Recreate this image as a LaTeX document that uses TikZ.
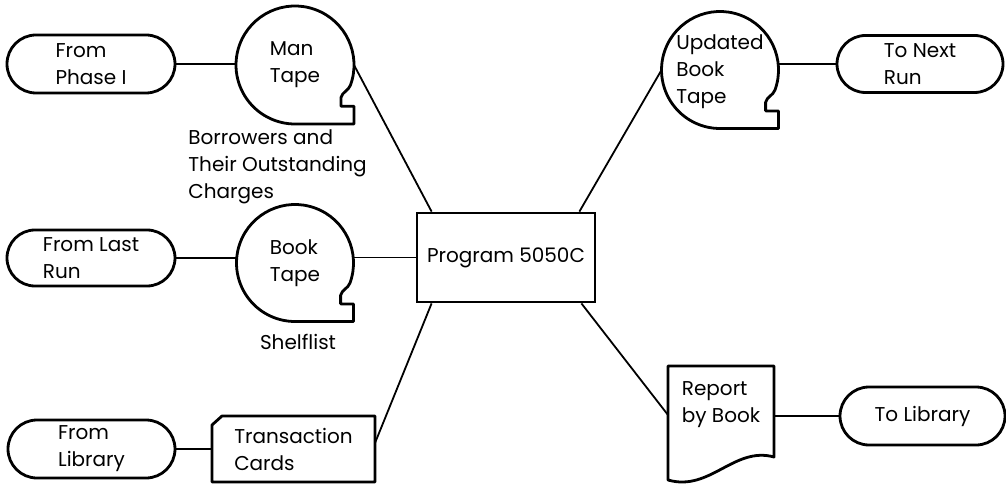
\documentclass[tikz,border=0pt]{standalone}
\usepackage{fontspec}
\setmainfont{Poppins}
\usepackage{tikz}
\usetikzlibrary{positioning, calc, shapes.misc}

% tape outline round a circle node #1 of radius #2
\newcommand{\tapeline}[2]{%
  \draw[outline] (#1.south) -- ++(#2,0pt) -- ++(0pt,{0.3*#2}) -- ++({-0.22*#2},0pt)
    -- ++(0pt,{0.15*#2}) to[out=75,in=250] (#1.-20)
    arc[start angle=-20, end angle=270, radius=#2] -- cycle;}

\begin{document}
\begin{tikzpicture}[x=0.5pt, y=-0.5pt,
  every node/.style={font=\fontsize{10}{13.5}\selectfont, align=left},
  outline/.style={line width=1.4pt, line join=round},
  link/.style={line width=0.9pt},
  terminal/.style={draw, rounded rectangle, line width=1.4pt, minimum width=84pt, minimum height=29pt, inner sep=0pt},
  tape/.style={circle, minimum size=#1, inner sep=0pt, outer sep=0pt},
  tape/.default=59pt,
  frame/.style={rectangle, inner sep=0pt, outer sep=0pt}]
  \useasboundingbox (0,0) rectangle (1006,486);

  % program in the middle
  \node[draw, line width=1.4pt, minimum width=89pt, minimum height=44.5pt] (prog) at (506,257.5) {Program 5050C};

  % inputs
  \node[terminal] (fp) at (91,64) {From\\Phase I};
  \node[tape] (mt) at (295,65) {};
  \tapeline{mt}{29.5pt}
  \node (mt-txt) at (mt) {Man\\Tape};
  \node[anchor=west, inner sep=0pt] (borrow) at (188,167) {Borrowers and\\Their Outstanding\\Charges};

  \node[terminal, minimum height=28pt] (flr) at (91,258) {From Last\\Run};
  \node[tape=58.5pt] (bt) at (295,263) {};
  \tapeline{bt}{29.25pt}
  \node (bt-txt) at (bt) {Book\\Tape};
  \node (shelf) at (298,342) {Shelflist};

  \node[terminal, minimum width=83.5pt] (fl) at (91.5,449) {From\\Library};
  \node[frame, minimum width=81.5pt, minimum height=33pt] (tc) at (293.5,449) {Transaction\\Cards};
  \draw[outline] ([yshift=-4.5pt]tc.north west) -- ([xshift=5pt]tc.north west)
    -- (tc.north east) -- (tc.south east) -- (tc.south west) -- cycle;

  % outputs
  \node[tape=58.5pt] (ubt) at (720,70) {};
  \tapeline{ubt}{29.25pt}
  \node (ubt-txt) at ([yshift=-1pt]ubt.center) {Updated\\Book\\Tape};
  \node[terminal, minimum width=83pt, minimum height=28.5pt] (tnr) at (920,64) {To Next\\Run};

  \node[frame, minimum width=53pt, minimum height=57pt] (rb) at (721,423) {};
  \draw[outline] (rb.north west) -- (rb.north east) -- ([yshift=11.5pt]rb.south east)
    .. controls ([xshift=-20pt,yshift=17pt]rb.south east) and ([xshift=21pt,yshift=-6pt]rb.south west) .. (rb.south west) -- cycle;
  \node (rb-txt) at ([yshift=9pt]rb.center) {Report\\by Book};
  \node[terminal, minimum width=82.5pt] (tl) at (922.5,416) {To Library};

  % connections
  \draw[link] (fp.east) -- (fp.east -| mt.west);
  \draw[link] (flr.east) -- (flr.east -| bt.west);
  \draw[link] (bt.east |- prog.west) -- (prog.west);
  \draw[link] (fl.east) -- (fl.east -| tc.west);
  \draw[link] (mt.east) -- ([xshift=8pt]prog.north west);
  \draw[link] ([yshift=3pt]tc.east) -- ([xshift=8pt]prog.south west);
  \draw[link] (ubt.west) -- ([xshift=-8.5pt]prog.north east);
  \draw[link] ([xshift=-7.5pt]prog.south east) -- ([yshift=4pt]rb.west);
  \draw[link] (ubt.east |- tnr.west) -- (tnr.west);
  \draw[link] (tl.west -| rb.east) -- (tl.west);
\end{tikzpicture}
\end{document}
